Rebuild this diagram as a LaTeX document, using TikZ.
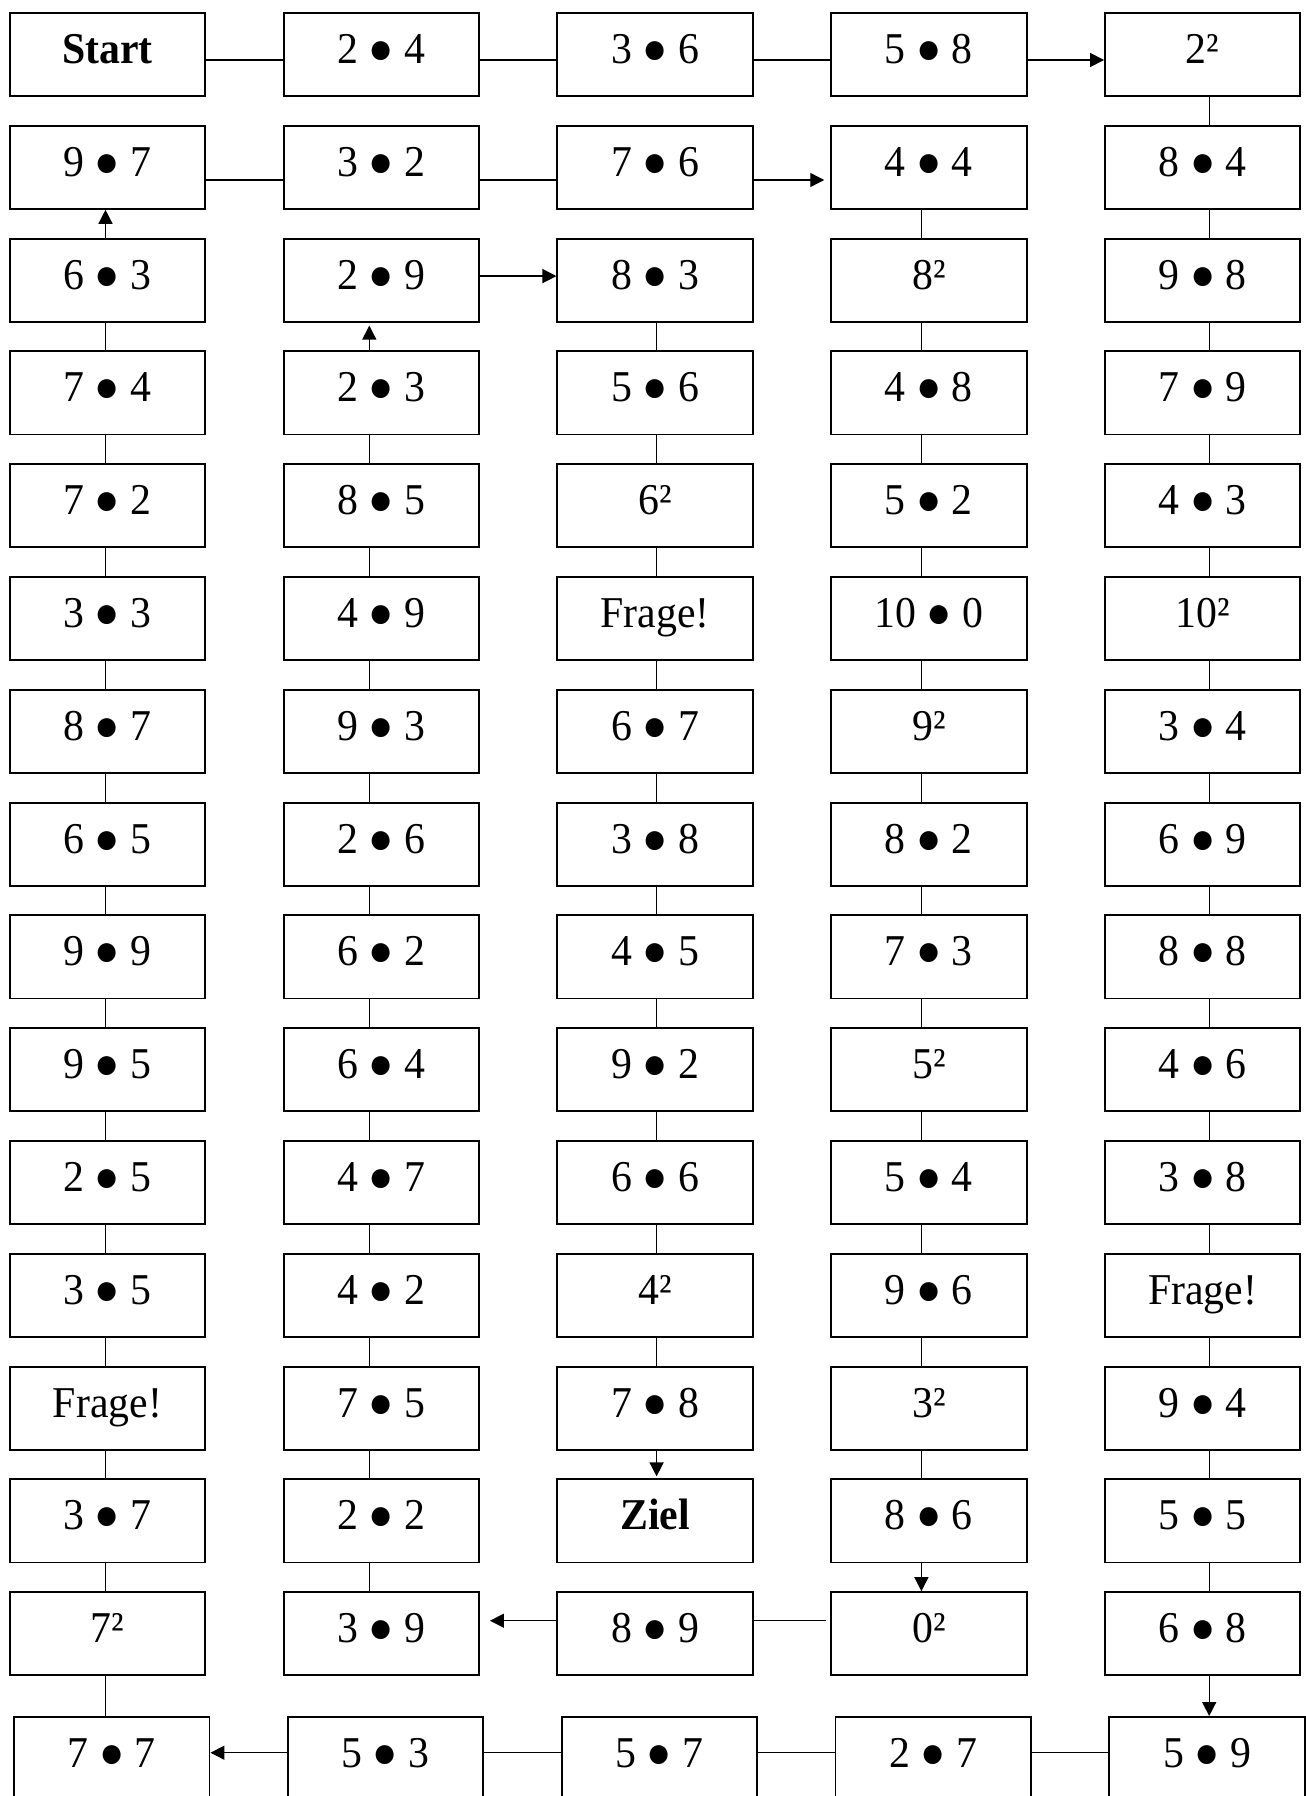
\documentclass[tikz,border=0pt]{standalone}
\usepackage{fontspec}
\setmainfont{Liberation Serif}[FakeStretch=0.95]
\usetikzlibrary{arrows.meta}

\begin{document}
\begin{tikzpicture}[x=1pt,y=-1pt,
  cell/.style={draw, line width=1.9pt, minimum width=195.4pt, minimum height=83.1pt,
    inner sep=0pt, text height=30pt, text depth=12pt, font=\fontsize{44}{50}\selectfont},
  link/.style={line width=1.4pt},
  arr/.style={line width=1.4pt, -{Triangle[length=14pt,width=14pt]}}]
  \useasboundingbox (0,0) rectangle (1306,1796);

  % the board, row by row
  \node[cell] (a1) at (107.5,54.5) {\textbf{Start}}; \node[cell] (b1) at (381.3,54.5) {2 ● 4};
  \node[cell] (c1) at (655.1,54.5) {3 ● 6}; \node[cell] (d1) at (928.9,54.5) {5 ● 8}; \node[cell] (e1) at (1202.7,54.5) {2²};

  \node[cell] (a2) at (107.5,167.3) {9 ● 7}; \node[cell] (b2) at (381.3,167.3) {3 ● 2};
  \node[cell] (c2) at (655.1,167.3) {7 ● 6}; \node[cell] (d2) at (928.9,167.3) {4 ● 4}; \node[cell] (e2) at (1202.7,167.3) {8 ● 4};

  \node[cell] (a3) at (107.5,280.1) {6 ● 3}; \node[cell] (b3) at (381.3,280.1) {2 ● 9};
  \node[cell] (c3) at (655.1,280.1) {8 ● 3}; \node[cell] (d3) at (928.9,280.1) {8²}; \node[cell] (e3) at (1202.7,280.1) {9 ● 8};

  \node[cell] (a4) at (107.5,392.9) {7 ● 4}; \node[cell] (b4) at (381.3,392.9) {2 ● 3};
  \node[cell] (c4) at (655.1,392.9) {5 ● 6}; \node[cell] (d4) at (928.9,392.9) {4 ● 8}; \node[cell] (e4) at (1202.7,392.9) {7 ● 9};

  \node[cell] (a5) at (107.5,505.7) {7 ● 2}; \node[cell] (b5) at (381.3,505.7) {8 ● 5};
  \node[cell] (c5) at (655.1,505.7) {6²}; \node[cell] (d5) at (928.9,505.7) {5 ● 2}; \node[cell] (e5) at (1202.7,505.7) {4 ● 3};

  \node[cell] (a6) at (107.5,618.5) {3 ● 3}; \node[cell] (b6) at (381.3,618.5) {4 ● 9};
  \node[cell] (c6) at (655.1,618.5) {Frage!}; \node[cell] (d6) at (928.9,618.5) {10 ● 0}; \node[cell] (e6) at (1202.7,618.5) {10²};

  \node[cell] (a7) at (107.5,731.3) {8 ● 7}; \node[cell] (b7) at (381.3,731.3) {9 ● 3};
  \node[cell] (c7) at (655.1,731.3) {6 ● 7}; \node[cell] (d7) at (928.9,731.3) {9²}; \node[cell] (e7) at (1202.7,731.3) {3 ● 4};

  \node[cell] (a8) at (107.5,844.1) {6 ● 5}; \node[cell] (b8) at (381.3,844.1) {2 ● 6};
  \node[cell] (c8) at (655.1,844.1) {3 ● 8}; \node[cell] (d8) at (928.9,844.1) {8 ● 2}; \node[cell] (e8) at (1202.7,844.1) {6 ● 9};

  \node[cell] (a9) at (107.5,956.9) {9 ● 9}; \node[cell] (b9) at (381.3,956.9) {6 ● 2};
  \node[cell] (c9) at (655.1,956.9) {4 ● 5}; \node[cell] (d9) at (928.9,956.9) {7 ● 3}; \node[cell] (e9) at (1202.7,956.9) {8 ● 8};

  \node[cell] (a10) at (107.5,1069.7) {9 ● 5}; \node[cell] (b10) at (381.3,1069.7) {6 ● 4};
  \node[cell] (c10) at (655.1,1069.7) {9 ● 2}; \node[cell] (d10) at (928.9,1069.7) {5²}; \node[cell] (e10) at (1202.7,1069.7) {4 ● 6};

  \node[cell] (a11) at (107.5,1182.5) {2 ● 5}; \node[cell] (b11) at (381.3,1182.5) {4 ● 7};
  \node[cell] (c11) at (655.1,1182.5) {6 ● 6}; \node[cell] (d11) at (928.9,1182.5) {5 ● 4}; \node[cell] (e11) at (1202.7,1182.5) {3 ● 8};

  \node[cell] (a12) at (107.5,1295.3) {3 ● 5}; \node[cell] (b12) at (381.3,1295.3) {4 ● 2};
  \node[cell] (c12) at (655.1,1295.3) {4²}; \node[cell] (d12) at (928.9,1295.3) {9 ● 6}; \node[cell] (e12) at (1202.7,1295.3) {Frage!};

  \node[cell] (a13) at (107.5,1408.1) {Frage!}; \node[cell] (b13) at (381.3,1408.1) {7 ● 5};
  \node[cell] (c13) at (655.1,1408.1) {7 ● 8}; \node[cell] (d13) at (928.9,1408.1) {3²}; \node[cell] (e13) at (1202.7,1408.1) {9 ● 4};

  \node[cell] (a14) at (107.5,1520.9) {3 ● 7}; \node[cell] (b14) at (381.3,1520.9) {2 ● 2};
  \node[cell] (c14) at (655.1,1520.9) {\textbf{Ziel}}; \node[cell] (d14) at (928.9,1520.9) {8 ● 6}; \node[cell] (e14) at (1202.7,1520.9) {5 ● 5};

  \node[cell] (a15) at (107.5,1633.7) {7²}; \node[cell] (b15) at (381.3,1633.7) {3 ● 9};
  \node[cell] (c15) at (655.1,1633.7) {8 ● 9}; \node[cell] (d15) at (928.9,1633.7) {0²}; \node[cell] (e15) at (1202.7,1633.7) {6 ● 8};

  \node[cell] (a16) at (111.8,1758.5) {7 ● 7}; \node[cell] (b16) at (385.6,1758.5) {5 ● 3};
  \node[cell] (c16) at (659.4,1758.5) {5 ● 7}; \node[cell] (d16) at (933.2,1758.5) {2 ● 7}; \node[cell] (e16) at (1207.0,1758.5) {5 ● 9};

  % across the top
  \draw[link] ([yshift=-5.5pt]a1.east) -- ([yshift=-5.5pt]b1.west);
  \draw[link] ([yshift=-5.5pt]b1.east) -- ([yshift=-5.5pt]c1.west);
  \draw[link] ([yshift=-5.5pt]c1.east) -- ([yshift=-5.5pt]d1.west);
  \draw[arr] ([yshift=-5.5pt]d1.east) -- ([yshift=-5.5pt]e1.west);

  % down the right side
  \draw[link] ([xshift=6.5pt]e1.south) -- ([xshift=6.5pt]e2.north); \draw[link] ([xshift=6.5pt]e2.south) -- ([xshift=6.5pt]e3.north);
  \draw[link] ([xshift=6.5pt]e3.south) -- ([xshift=6.5pt]e4.north); \draw[link] ([xshift=6.5pt]e4.south) -- ([xshift=6.5pt]e5.north);
  \draw[link] ([xshift=6.5pt]e5.south) -- ([xshift=6.5pt]e6.north); \draw[link] ([xshift=6.5pt]e6.south) -- ([xshift=6.5pt]e7.north);
  \draw[link] ([xshift=6.5pt]e7.south) -- ([xshift=6.5pt]e8.north); \draw[link] ([xshift=6.5pt]e8.south) -- ([xshift=6.5pt]e9.north);
  \draw[link] ([xshift=6.5pt]e9.south) -- ([xshift=6.5pt]e10.north); \draw[link] ([xshift=6.5pt]e10.south) -- ([xshift=6.5pt]e11.north);
  \draw[link] ([xshift=6.5pt]e11.south) -- ([xshift=6.5pt]e12.north); \draw[link] ([xshift=6.5pt]e12.south) -- ([xshift=6.5pt]e13.north);
  \draw[link] ([xshift=6.5pt]e13.south) -- ([xshift=6.5pt]e14.north); \draw[link] ([xshift=6.5pt]e14.south) -- ([xshift=6.5pt]e15.north);
  \draw[arr] ([xshift=6.5pt]e15.south) -- ([xshift=2.2pt]e16.north);

  % back along the bottom
  \draw[link] ([yshift=5.8pt]e16.west) -- ([yshift=5.8pt]d16.east);
  \draw[link] ([yshift=5.8pt]d16.west) -- ([yshift=5.8pt]c16.east);
  \draw[link] ([yshift=5.8pt]c16.west) -- ([yshift=5.8pt]b16.east);
  \draw[arr] ([yshift=5.8pt]b16.west) -- ([yshift=5.8pt]a16.east);

  % up the left side
  \draw[link] ([xshift=-6.3pt]a16.north) -- ([xshift=-2pt]a15.south);
  \draw[link] ([xshift=-2pt]a15.north) -- ([xshift=-2pt]a14.south); \draw[link] ([xshift=-2pt]a14.north) -- ([xshift=-2pt]a13.south);
  \draw[link] ([xshift=-2pt]a13.north) -- ([xshift=-2pt]a12.south); \draw[link] ([xshift=-2pt]a12.north) -- ([xshift=-2pt]a11.south);
  \draw[link] ([xshift=-2pt]a11.north) -- ([xshift=-2pt]a10.south); \draw[link] ([xshift=-2pt]a10.north) -- ([xshift=-2pt]a9.south);
  \draw[link] ([xshift=-2pt]a9.north) -- ([xshift=-2pt]a8.south); \draw[link] ([xshift=-2pt]a8.north) -- ([xshift=-2pt]a7.south);
  \draw[link] ([xshift=-2pt]a7.north) -- ([xshift=-2pt]a6.south); \draw[link] ([xshift=-2pt]a6.north) -- ([xshift=-2pt]a5.south);
  \draw[link] ([xshift=-2pt]a5.north) -- ([xshift=-2pt]a4.south); \draw[link] ([xshift=-2pt]a4.north) -- ([xshift=-2pt]a3.south);
  \draw[arr] ([xshift=-2pt]a3.north) -- ([xshift=-2pt]a2.south);

  % second row to the right
  \draw[link] ([yshift=-12.7pt]a2.east) -- ([yshift=-12.7pt]b2.west);
  \draw[link] ([yshift=-12.7pt]b2.east) -- ([yshift=-12.7pt]c2.west);
  \draw[arr, shorten >=6pt] ([yshift=-12.7pt]c2.east) -- ([yshift=-12.7pt]d2.west);

  % down the fourth column
  \draw[link] ([xshift=-7.5pt]d2.south) -- ([xshift=-7.5pt]d3.north); \draw[link] ([xshift=-7.5pt]d3.south) -- ([xshift=-7.5pt]d4.north);
  \draw[link] ([xshift=-7.5pt]d4.south) -- ([xshift=-7.5pt]d5.north); \draw[link] ([xshift=-7.5pt]d5.south) -- ([xshift=-7.5pt]d6.north);
  \draw[link] ([xshift=-7.5pt]d6.south) -- ([xshift=-7.5pt]d7.north); \draw[link] ([xshift=-7.5pt]d7.south) -- ([xshift=-7.5pt]d8.north);
  \draw[link] ([xshift=-7.5pt]d8.south) -- ([xshift=-7.5pt]d9.north); \draw[link] ([xshift=-7.5pt]d9.south) -- ([xshift=-7.5pt]d10.north);
  \draw[link] ([xshift=-7.5pt]d10.south) -- ([xshift=-7.5pt]d11.north); \draw[link] ([xshift=-7.5pt]d11.south) -- ([xshift=-7.5pt]d12.north);
  \draw[link] ([xshift=-7.5pt]d12.south) -- ([xshift=-7.5pt]d13.north); \draw[link] ([xshift=-7.5pt]d13.south) -- ([xshift=-7.5pt]d14.north);
  \draw[arr] ([xshift=-7.5pt]d14.south) -- ([xshift=-7.5pt]d15.north);

  % back to the left in row 15
  \draw[link, shorten <=4pt] ([yshift=13pt]d15.west) -- ([yshift=13pt]c15.east);
  \draw[arr, shorten >=10pt] ([yshift=13pt]c15.west) -- ([yshift=13pt]b15.east);

  % up the second column
  \draw[link] ([xshift=-12pt]b15.north) -- ([xshift=-12pt]b14.south); \draw[link] ([xshift=-12pt]b14.north) -- ([xshift=-12pt]b13.south);
  \draw[link] ([xshift=-12pt]b13.north) -- ([xshift=-12pt]b12.south); \draw[link] ([xshift=-12pt]b12.north) -- ([xshift=-12pt]b11.south);
  \draw[link] ([xshift=-12pt]b11.north) -- ([xshift=-12pt]b10.south); \draw[link] ([xshift=-12pt]b10.north) -- ([xshift=-12pt]b9.south);
  \draw[link] ([xshift=-12pt]b9.north) -- ([xshift=-12pt]b8.south); \draw[link] ([xshift=-12pt]b8.north) -- ([xshift=-12pt]b7.south);
  \draw[link] ([xshift=-12pt]b7.north) -- ([xshift=-12pt]b6.south); \draw[link] ([xshift=-12pt]b6.north) -- ([xshift=-12pt]b5.south);
  \draw[link] ([xshift=-12pt]b5.north) -- ([xshift=-12pt]b4.south);
  \draw[arr, shorten >=3pt] ([xshift=-12pt]b4.north) -- ([xshift=-12pt]b3.south);

  % into the middle column and down to the goal
  \draw[arr] ([yshift=4pt]b3.east) -- ([yshift=4pt]c3.west);
  \draw[link] ([xshift=1.5pt]c3.south) -- ([xshift=1.5pt]c4.north); \draw[link] ([xshift=1.5pt]c4.south) -- ([xshift=1.5pt]c5.north);
  \draw[link] ([xshift=1.5pt]c5.south) -- ([xshift=1.5pt]c6.north); \draw[link] ([xshift=1.5pt]c6.south) -- ([xshift=1.5pt]c7.north);
  \draw[link] ([xshift=1.5pt]c7.south) -- ([xshift=1.5pt]c8.north); \draw[link] ([xshift=1.5pt]c8.south) -- ([xshift=1.5pt]c9.north);
  \draw[link] ([xshift=1.5pt]c9.south) -- ([xshift=1.5pt]c10.north); \draw[link] ([xshift=1.5pt]c10.south) -- ([xshift=1.5pt]c11.north);
  \draw[link] ([xshift=1.5pt]c11.south) -- ([xshift=1.5pt]c12.north); \draw[link] ([xshift=1.5pt]c12.south) -- ([xshift=1.5pt]c13.north);
  \draw[arr, shorten >=2pt] ([xshift=1.5pt]c13.south) -- ([xshift=1.5pt]c14.north);
\end{tikzpicture}
\end{document}
